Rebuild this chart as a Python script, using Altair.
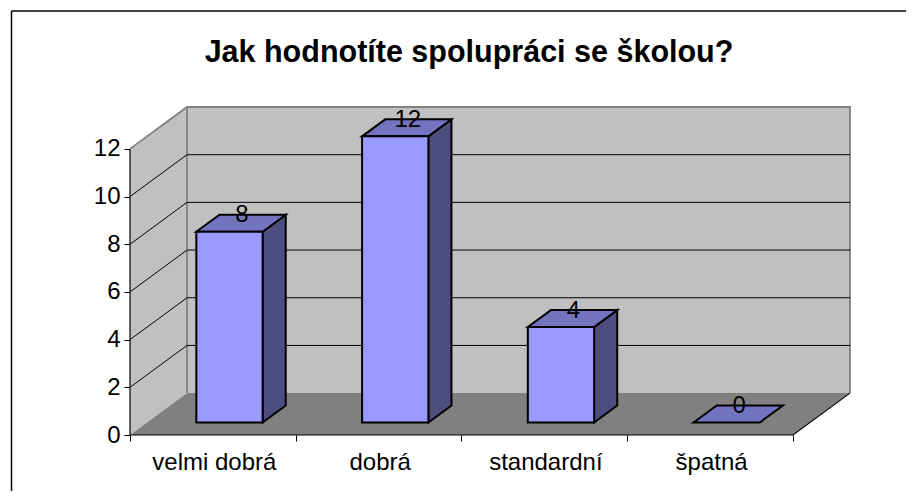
import altair as alt
import pandas as pd

title_text = "Jak hodnotíte spolupráci se školou?"
categories = ["velmi dobrá", "dobrá", "standardní", "špatná"]
values = [8, 12, 4, 0]
y_ticks = [0, 2, 4, 6, 8, 10, 12]
x_ticks = [0, 1, 2, 3, 4]
grid_levels = [2, 4, 6, 8, 10]

FONT = "Liberation Sans"
DX, DY = 0.344, 1.757      # oblique shift of the back plane, in data units
D0, D1 = 0.30, 0.705       # bar depth range, share of the floor depth
HALF = 0.2                 # half bar width, in category units
BAR_SHIFT = -0.003         # bars sit a little left of the category centre
VMAX = 12


def px(c, d):
    return c + DX * d


def py(v, d):
    return v + DY * d


x_scale = alt.Scale(domain=[0, 4 + DX], nice=False, zero=False)
y_scale = alt.Scale(domain=[0, VMAX + DY], nice=False, zero=False)
x_axis = alt.Axis(values=x_ticks, labels=False, domain=False, grid=False, ticks=True, tickSize=6,
                  tickColor="#000000", tickWidth=1, title=None)
y_axis = alt.Axis(values=y_ticks, domain=False, grid=False, ticks=True, tickSize=6, tickColor="#000000",
                  tickWidth=1, labelFont=FONT, labelFontSize=24, labelColor="#000000", labelPadding=4,
                  labelFlush=False, labelOverlap=False, title=None)
X = lambda f, **k: alt.X(f, type="quantitative", scale=x_scale, axis=x_axis, **k)
Y = lambda f, **k: alt.Y(f, type="quantitative", scale=y_scale, axis=y_axis, **k)

# walls and floor
left_wall = pd.DataFrame({"x": [px(0, 0), px(0, 1)], "y": [py(0, 0), py(0, 1)], "y2": [py(VMAX, 0), py(VMAX, 1)]})
back_wall = pd.DataFrame({"x": [px(0, 1)], "x2": [px(4, 1)], "y": [py(0, 1)], "y2": [py(VMAX, 1)]})
floor = pd.DataFrame({"y": [py(0, 0), py(0, 1)], "x": [px(0, 0), px(0, 1)], "x2": [px(4, 0), px(4, 1)]})

l_wall = alt.Chart(left_wall).mark_area(color="#C0C0C0").encode(
    x=X("x"), y=Y("y", stack=None), y2="y2")
b_wall = alt.Chart(back_wall).mark_rect(color="#C0C0C0").encode(
    x=X("x"), x2="x2", y=Y("y"), y2="y2")
floor_m = alt.Chart(floor).mark_area(color="#808080", orient="horizontal").encode(
    y=Y("y"), x=X("x", stack=None), x2="x2")

# wall edges
edges = pd.DataFrame({
    "x": [px(0, 0), px(0, 1), px(4, 1), px(4, 1)],
    "y": [py(VMAX, 0), py(VMAX, 1), py(VMAX, 1), py(0, 1)],
    "o": [0, 1, 2, 3],
})
edge_m = alt.Chart(edges).mark_line(color="#808080", strokeWidth=1.8).encode(
    x=X("x"), y=Y("y"), order="o")
edge_m2 = alt.Chart(pd.DataFrame({"x": [px(0, 1), px(0, 1)], "y": [py(VMAX, 1), py(0, 1)]})).mark_line(
    color="#808080", strokeWidth=1.8).encode(x=X("x"), y=Y("y"))

# grid lines: across the left wall and the back wall
grid_rows = []
for g in grid_levels:
    grid_rows.append({"g": g, "x": px(0, 0), "y": py(g, 0), "o": 0})
    grid_rows.append({"g": g, "x": px(0, 1), "y": py(g, 1), "o": 1})
    grid_rows.append({"g": g, "x": px(4, 1), "y": py(g, 1), "o": 2})
grid_m = alt.Chart(pd.DataFrame(grid_rows)).mark_line(color="#000000", strokeWidth=1).encode(
    x=X("x"), y=Y("y"), detail="g:N", order="o")

# floor front and right edge, value axis line
floor_edge = pd.DataFrame({"x": [px(0, 0), px(4, 0), px(4, 1)], "y": [py(0, 0), py(0, 0), py(0, 1)], "o": [0, 1, 2]})
floor_edge_m = alt.Chart(floor_edge).mark_line(color="#000000", strokeWidth=1.2).encode(
    x=X("x"), y=Y("y"), order="o")
val_axis = pd.DataFrame({"x": [0, 0], "y": [0, VMAX]})
val_axis_m = alt.Chart(val_axis).mark_line(color="#000000", strokeWidth=1.2).encode(x=X("x"), y=Y("y"))

# bars
front, side, top, labels = [], [], [], []
for i, (c, v) in enumerate(zip(categories, values)):
    mid = i + 0.5 + BAR_SHIFT
    l, r = mid - HALF, mid + HALF
    if v > 0:
        front.append({"x": px(l, D0), "x2": px(r, D0), "y": py(0, D0), "y2": py(v, D0)})
        side.append({"k": c, "x": px(r, D0), "y": py(0, D0), "y2": py(v, D0)})
        side.append({"k": c, "x": px(r, D1), "y": py(0, D1), "y2": py(v, D1)})
    top.append({"k": c, "y": py(v, D0), "x": px(l, D0), "x2": px(r, D0)})
    top.append({"k": c, "y": py(v, D1), "x": px(l, D1), "x2": px(r, D1)})
    labels.append({"x": px(mid, (D0 + D1) / 2), "y": py(v, (D0 + D1) / 2), "t": str(v)})

stroke = dict(stroke="#000000", strokeWidth=2, strokeJoin="miter")
side_m = alt.Chart(pd.DataFrame(side)).mark_area(color="#4D4D80", **stroke).encode(
    x=X("x"), y=Y("y", stack=None), y2="y2", detail="k:N")
top_m = alt.Chart(pd.DataFrame(top)).mark_area(color="#7373BF", orient="horizontal", **stroke).encode(
    y=Y("y"), x=X("x", stack=None), x2="x2", detail="k:N")
front_m = alt.Chart(pd.DataFrame(front)).mark_rect(color="#9999FF", **stroke).encode(
    x=X("x"), x2="x2", y=Y("y"), y2="y2")

val_labels = alt.Chart(pd.DataFrame(labels)).mark_text(
    font=FONT, fontSize=24, color="#000000", baseline="middle", dy=-8, dx=1).encode(
    x=X("x"), y=Y("y"), text="t:N")

cat_df = pd.DataFrame({"x": [i + 0.5 for i in range(4)], "y": [0] * 4, "t": categories})
cat_labels = alt.Chart(cat_df).mark_text(
    font=FONT, fontSize=24, color="#000000", baseline="middle", dy=28, dx=1.5).encode(
    x=X("x"), y=Y("y"), text="t:N")

# chart title
title_m = alt.Chart(pd.DataFrame({"t": [title_text]})).mark_text(
    font=FONT, fontSize=30.5, fontWeight="bold", color="#000000", baseline="middle", align="center").encode(
    x=alt.value(339), y=alt.value(-54), text="t:N")

# chart frame (only its left and top sides fall inside the picture)
frame_top = alt.Chart(pd.DataFrame({"a": [0]})).mark_rule(color="#000000", strokeWidth=1.5).encode(
    x=alt.value(-118.5), x2=alt.value(784), y=alt.value(-96))
frame_left = alt.Chart(pd.DataFrame({"a": [0]})).mark_rule(color="#000000", strokeWidth=1.5).encode(
    x=alt.value(-118.5), y=alt.value(-96), y2=alt.value(392))

chart = alt.layer(
    frame_top, frame_left, title_m, l_wall, b_wall, floor_m, edge_m, edge_m2, grid_m, floor_edge_m,
    val_axis_m, side_m, top_m, front_m, val_labels, cat_labels,
).properties(
    width=720,
    height=328,
    background="#FFFFFF",
    padding={"left": 122, "top": 99, "right": 56, "bottom": 56},
    autosize=alt.AutoSizeParams(type="none"),
).configure_view(stroke=None)

chart.save("out.html", embed_options={"renderer": "svg", "actions": False})
